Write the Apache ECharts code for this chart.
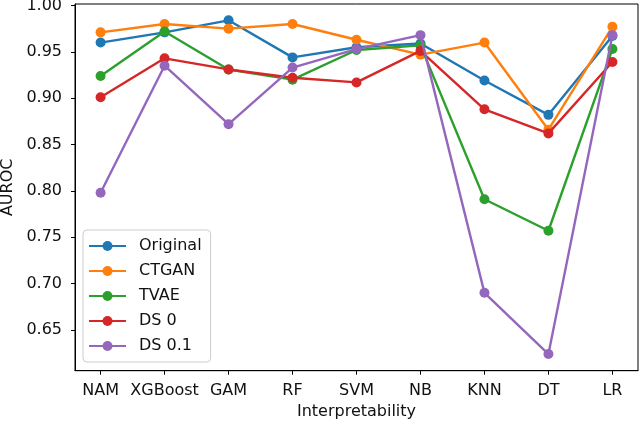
<!DOCTYPE html>
<html>
<head>
<meta charset="utf-8">
<script src="https://cdn.jsdelivr.net/npm/echarts@6/dist/echarts.min.js"></script>
<style>
html,body{margin:0;padding:0;background:#fff;}
#chart{width:640px;height:424px;}
</style>
</head>
<body>
<div id="chart"></div>
<script>
const categories = ['NAM', 'XGBoost', 'GAM', 'RF', 'SVM', 'NB', 'KNN', 'DT', 'LR'];
const yTicks = [0.65, 0.70, 0.75, 0.80, 0.85, 0.90, 0.95, 1.00];
const seriesNames = ['Original', 'CTGAN', 'TVAE', 'DS 0', 'DS 0.1'];
const original = [0.960, 0.971, 0.984, 0.944, 0.955, 0.959, 0.919, 0.882, 0.967];
const ctgan    = [0.971, 0.980, 0.975, 0.980, 0.963, 0.947, 0.960, 0.866, 0.977];
const tvae     = [0.924, 0.972, 0.931, 0.920, 0.952, 0.957, 0.791, 0.757, 0.953];
const ds0      = [0.901, 0.943, 0.931, 0.922, 0.917, 0.951, 0.888, 0.862, 0.939];
const ds01     = [0.798, 0.935, 0.872, 0.933, 0.953, 0.968, 0.690, 0.624, 0.968];
const seriesValues = [original, ctgan, tvae, ds0, ds01];
const colors = ['#1f77b4', '#ff7f0e', '#2ca02c', '#d62728', '#9467bd'];

const font = 'DejaVu Sans';
const txt = '#111';
const xIdx = categories.map((c, i) => i);

const chart = echarts.init(document.getElementById('chart'), null, {renderer: 'canvas'});
chart.setOption({
  animation: false,
  backgroundColor: '#fff',
  color: colors,
  grid: {left: 75, right: 2, top: 4, bottom: 53.3, containLabel: false, outerBoundsMode: 'none',
    show: true, borderColor: '#000', borderWidth: 1, backgroundColor: 'transparent'},
  legend: {
    data: seriesNames,
    orient: 'vertical',
    left: 83, top: 230,
    itemWidth: 37, itemHeight: 12.5, itemGap: 9,
    padding: [8, 9, 8, 5],
    backgroundColor: 'rgba(255,255,255,0.8)',
    borderColor: '#cccccc', borderWidth: 1, borderRadius: 4,
    textStyle: {fontFamily: font, fontSize: 16, color: txt, lineHeight: 16, padding: [0, 0, 0, 8]}
  },
  xAxis: {
    type: 'value', min: -0.4, max: 8.4,
    name: 'Interpretability', nameLocation: 'middle', nameGap: 32,
    nameTextStyle: {fontFamily: font, fontSize: 16, color: txt},
    axisLine: {show: true, onZero: false, lineStyle: {color: '#000', width: 1}},
    axisTick: {show: true, length: 4, customValues: xIdx, lineStyle: {color: '#000'}},
    axisLabel: {customValues: xIdx, margin: 12, fontFamily: font, fontSize: 16, color: txt,
      formatter: v => categories[Math.round(v)]},
    splitLine: {show: false}
  },
  yAxis: {
    type: 'value', min: 0.606, max: 1.0016,
    name: 'AUROC', nameLocation: 'middle', nameGap: 57,
    nameTextStyle: {fontFamily: font, fontSize: 16, color: txt},
    axisLine: {show: true, onZero: false, lineStyle: {color: '#000', width: 1}},
    axisTick: {show: true, length: 4, customValues: yTicks, lineStyle: {color: '#000'}},
    axisLabel: {customValues: yTicks, margin: 13, fontFamily: font, fontSize: 16, color: txt,
      formatter: v => v.toFixed(2)},
    splitLine: {show: false}
  },
  series: seriesNames.map((name, i) => ({
    name: name,
    type: 'line',
    z: 2 + i,
    data: seriesValues[i].map((v, j) => [xIdx[j], v]),
    symbol: 'circle',
    symbolSize: 10,
    lineStyle: {width: 2.4, color: colors[i]},
    itemStyle: {color: colors[i]},
    emphasis: {disabled: true}
  }))
});
</script>
</body>
</html>
